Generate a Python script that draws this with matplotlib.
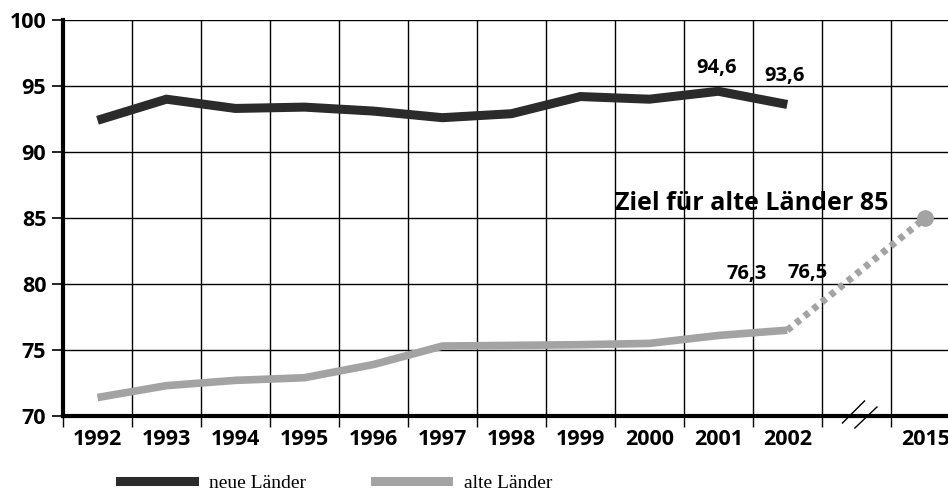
import matplotlib
matplotlib.use('Agg')
import matplotlib.pyplot as plt
from matplotlib.lines import Line2D

# Data
years = ['1992', '1993', '1994', '1995', '1996', '1997', '1998', '1999', '2000', '2001', '2002', '', '2015']
neue = [92.4, 94.0, 93.3, 93.4, 93.1, 92.6, 92.9, 94.2, 94.0, 94.6, 93.6]
alte = [71.4, 72.3, 72.7, 72.9, 73.9, 75.3, 75.35, 75.4, 75.5, 76.1, 76.5]
ziel_year_idx = 12
ziel_value = 85

plt.rcParams['font.family'] = ['Open Sans', 'DejaVu Sans']

fig = plt.figure(figsize=(9.48, 4.94), dpi=100)
ax = fig.add_axes([63 / 948, 78 / 494, 885 / 948, 396 / 494])

dark = '#2b2b2b'
grey = '#a3a3a3'

x_n = [i + 0.5 for i in range(len(neue))]
x_a = [i + 0.5 for i in range(len(alte))]

ax.plot(x_n, neue, color=dark, lw=6.5, solid_joinstyle='miter', solid_capstyle='butt', zorder=3)
ax.plot(x_a, alte, color=grey, lw=5.5, solid_joinstyle='miter', solid_capstyle='butt', zorder=3)
# target projection
ax.plot([x_a[-1], ziel_year_idx + 0.5], [alte[-1], ziel_value], color=grey, lw=5,
        linestyle=(0, (0.8, 0.8)), dash_capstyle='butt', zorder=3)
ax.plot([ziel_year_idx + 0.5], [ziel_value], 'o', color=grey, ms=11, zorder=4)

ax.set_xlim(0, 12.83)
ax.set_ylim(70, 100)

# grid
ax.set_xticks(range(0, 13))
ax.set_xticklabels([])
ax.set_xticks([i + 0.5 for i in range(len(years))], minor=True)
ax.set_xticklabels(years, minor=True, fontweight='bold', fontsize=15.5)
ax.set_yticks([70, 75, 80, 85, 90, 95, 100])
ax.set_yticklabels(['70', '75', '80', '85', '90', '95', '100'], fontweight='bold', fontsize=15.5)
ax.grid(True, which='major', color='black', lw=1.0)
ax.set_axisbelow(True)
ax.tick_params(axis='x', which='major', length=8, width=1, direction='out')
ax.tick_params(axis='x', which='minor', length=0, pad=9)
ax.tick_params(axis='y', length=8, width=1.2, pad=4)

for s in ['top', 'right']:
    ax.spines[s].set_visible(False)
ax.spines['left'].set_linewidth(3)
ax.spines['bottom'].set_linewidth(3)
ax.spines['left'].set_bounds(70, 100)

# axis break marks
ax.plot([11.30, 11.62], [69.47, 71.14], color='black', lw=1, clip_on=False, zorder=5)
ax.plot([11.48, 11.80], [69.09, 70.68], color='black', lw=1, clip_on=False, zorder=5)

# value labels
lab = dict(ha='center', va='center', fontweight='bold', fontsize=14.5)
ax.text(9.48, 96.35, '94,6', **lab)
ax.text(10.46, 95.75, '93,6', **lab)
ax.text(9.91, 80.75, '76,3', **lab)
ax.text(10.8, 80.85, '76,5', **lab)
ax.text(11.96, 86.1, 'Ziel für alte Länder 85', ha='right', va='center',
        fontweight='bold', fontsize=18)

# legend
handles = [Line2D([], [], color=dark, lw=6.5), Line2D([], [], color=grey, lw=6.5)]
fig.legend(handles, ['neue Länder', 'alte Länder'], loc='center left',
           bbox_to_anchor=(120 / 948, 11 / 494), ncol=2, frameon=False,
           prop={'family': 'Liberation Serif', 'size': 14},
           handlelength=3.8, handletextpad=0.8, columnspacing=3.5,
           borderpad=0, borderaxespad=0)

fig.savefig('out.png', dpi=100)
plt.close(fig)
